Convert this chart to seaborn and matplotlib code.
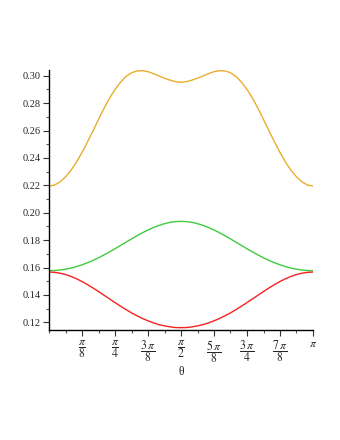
import numpy as np
import pandas as pd
import seaborn as sns
import matplotlib
matplotlib.use("Agg")
import matplotlib.pyplot as plt
from matplotlib.ticker import MultipleLocator

# sample angles, theta = k*pi/48, curves are symmetric about pi/2
theta = np.arange(49) * np.pi / 48

orange_half = [0.2195, 0.2202, 0.2225, 0.2262, 0.2310, 0.2370, 0.2440, 0.2517,
               0.2598, 0.2681, 0.2762, 0.2836, 0.2900, 0.2953, 0.2995, 0.3022,
               0.3035, 0.3037, 0.3030, 0.3015, 0.2998, 0.2982, 0.2968, 0.2957,
               0.2952]
green_half = [0.1577, 0.1578, 0.1582, 0.1588, 0.1596, 0.1607, 0.1620, 0.1635,
              0.1652, 0.1671, 0.1692, 0.1714, 0.1737, 0.1761, 0.1785, 0.1809,
              0.1832, 0.1854, 0.1874, 0.1892, 0.1908, 0.1920, 0.1930, 0.1935,
              0.1937]
red_half = [0.1567, 0.1565, 0.1559, 0.1549, 0.1535, 0.1518, 0.1498, 0.1475,
            0.1451, 0.1425, 0.1398, 0.1371, 0.1344, 0.1318, 0.1293, 0.1269,
            0.1248, 0.1228, 0.1211, 0.1196, 0.1183, 0.1174, 0.1167, 0.1162,
            0.1161]

orange = orange_half + orange_half[-2::-1]
green = green_half + green_half[-2::-1]
red = red_half + red_half[-2::-1]

xtick_pos = np.arange(1, 9) * np.pi / 8
xtick_labels = [r'$\dfrac{\pi}{8}$', r'$\dfrac{\pi}{4}$', r'$\dfrac{3\,\pi}{8}$',
                r'$\dfrac{\pi}{2}$', r'$\dfrac{5\,\pi}{8}$', r'$\dfrac{3\,\pi}{4}$',
                r'$\dfrac{7\,\pi}{8}$', r'$\pi$']
ytick_vals = [0.12, 0.14, 0.16, 0.18, 0.20, 0.22, 0.24, 0.26, 0.28, 0.30]

sns.set_style("ticks")
plt.rcParams['font.family'] = ['Liberation Serif', 'DejaVu Serif']
plt.rcParams['mathtext.fontset'] = 'stix'

fig = plt.figure(figsize=(3.4, 4.4), dpi=100)
ax = fig.add_axes([49 / 340, 1 - 330 / 440, 264 / 340, 260 / 440])

sns.lineplot(x=theta, y=orange, color='#E8AE2E', lw=1.0, ax=ax)
sns.lineplot(x=theta, y=green, color='#3ECB3E', lw=1.0, ax=ax)
sns.lineplot(x=theta, y=red, color='#F52222', lw=1.0, ax=ax)

ax.set_xlim(0, np.pi)
ax.set_ylim(0.1144, 0.3042)
ax.set_xticks(xtick_pos)
ax.set_xticklabels(xtick_labels)
ax.xaxis.set_minor_locator(MultipleLocator(np.pi / 16))
ax.set_yticks(ytick_vals)
ax.set_yticklabels([f'{v:.2f}' for v in ytick_vals])
ax.yaxis.set_minor_locator(MultipleLocator(0.01))

ax.tick_params(axis='both', which='major', labelsize=7.5, length=4, width=0.8,
               color='#333333', pad=2)
ax.tick_params(axis='both', which='minor', length=2, width=0.8, color='#555555')
ax.tick_params(axis='x', which='major', labelsize=8.5, pad=2)
ax.set_xlabel('θ', fontsize=8.5, labelpad=1)

for s in ['top', 'right']:
    ax.spines[s].set_visible(False)
for s in ['left', 'bottom']:
    ax.spines[s].set_linewidth(1.0)
    ax.spines[s].set_color('black')

fig.savefig('out.png', dpi=100)
